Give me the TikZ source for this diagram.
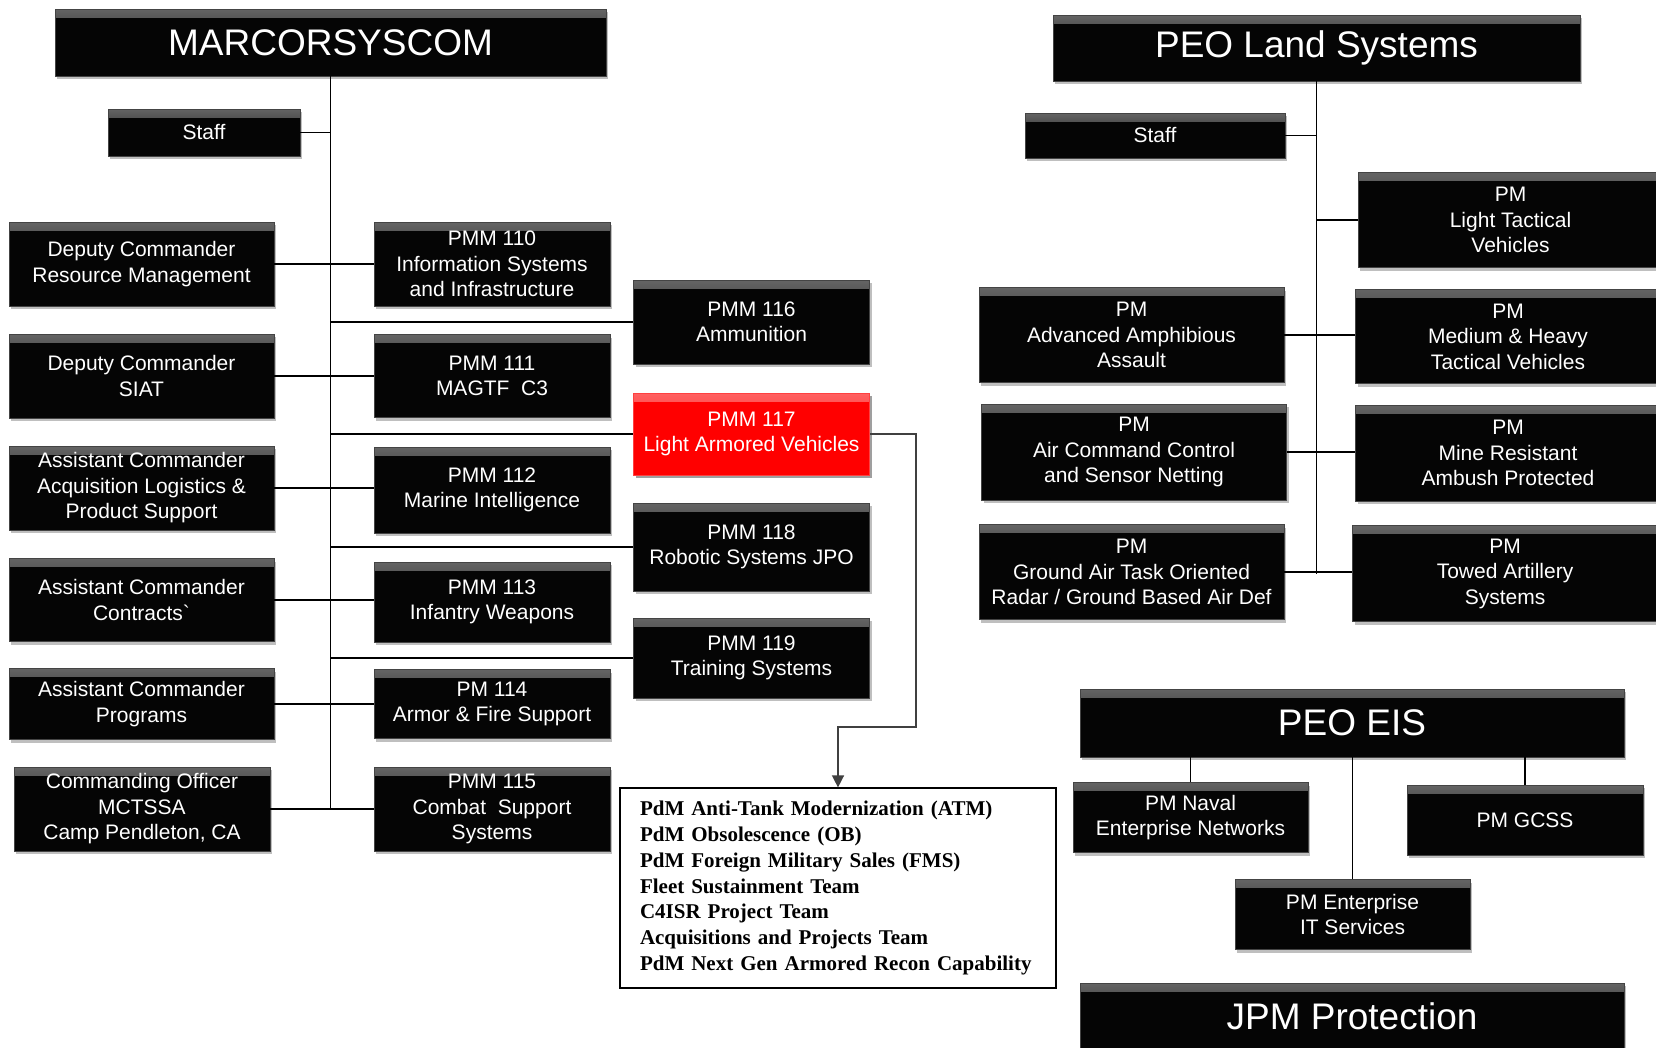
\documentclass[tikz,border=0pt]{standalone}
\usepackage{fontspec}
\setmainfont{Liberation Sans}
\newfontfamily\notefont{Liberation Serif}
\usepackage{xcolor}
\definecolor{boxfill}{HTML}{050505}
\definecolor{hilite}{HTML}{FF0000}
\definecolor{linkgray}{HTML}{404040}
\usetikzlibrary{arrows.meta, shadows}

\begin{document}
\begin{tikzpicture}[
  x=1pt, y=-1pt,
  orgbox/.style={rectangle, fill=#1, draw=#1!75!white, line width=0.8pt,
                 text=white, align=center, inner sep=2pt,
                 font=\fontsize{21}{25.5}\selectfont,
                 drop shadow={shadow xshift=2pt, shadow yshift=-3pt,
                              fill=black!50, opacity=.5},
                 path picture={\shade[top color=#1!62!white, bottom color=#1]
                   (path picture bounding box.north west) rectangle
                   ([yshift=-8pt]path picture bounding box.north east);}},
  orgbox/.default=boxfill,
  titlebox/.style={orgbox, font=\fontsize{37}{44}\selectfont},
  sidebox/.style={orgbox, minimum width=265pt},
  pmmbox/.style={orgbox, minimum width=236pt},
  pmbox/.style={orgbox, minimum width=305pt},
  orgline/.style={line width=1.8pt, black},
  thinline/.style={line width=1.3pt, black},
  orgarr/.style={-{Triangle[length=12pt, width=12pt]}, line width=1.4pt, linkgray}
]
  \useasboundingbox (0,0) rectangle (1656,1047);
  \fill[white] (0,0) rectangle (1656,1047);
  \clip (0,0) rectangle (1656,1047);

  \node[titlebox, minimum width=551pt, minimum height=67pt] (mcs) at (330.5,42.5) {MARCORSYSCOM};
  \node[orgbox, minimum width=192pt, minimum height=47pt] (staffl) at (204,132.5) {Staff};
  \node[sidebox, minimum height=84pt] (dcrm) at (141.5,264) {Deputy Commander\\Resource Management};
  \node[sidebox, minimum height=84pt] (dcsiat) at (141.5,376) {Deputy Commander\\SIAT};
  \node[sidebox, minimum height=84pt] (acq) at (141.5,488) {Assistant Commander\\Acquisition Logistics \&\\Product Support};
  \node[sidebox, minimum height=83pt] (contr) at (141.5,600) {Assistant Commander\\Contracts\textasciigrave};
  \node[sidebox, minimum height=71pt] (progs) at (141.5,704) {Assistant Commander\\Programs};
  \node[orgbox, minimum width=256pt, minimum height=84pt] (co) at (142,809) {Commanding Officer\\MCTSSA\\Camp Pendleton, CA};

  \node[pmmbox, minimum height=84pt] (pmm110) at (492,264) {PMM 110\\Information Systems\\and Infrastructure};
  \node[pmmbox, minimum height=83pt] (pmm111) at (492,376) {PMM 111\\MAGTF\ \ C3};
  \node[pmmbox, minimum height=86pt] (pmm112) at (492,490) {PMM 112\\Marine Intelligence};
  \node[pmmbox, minimum height=80pt] (pmm113) at (492,602) {PMM 113\\Infantry Weapons};
  \node[pmmbox, minimum height=69pt] (pm114) at (492,704) {PM 114\\Armor \& Fire Support};
  \node[pmmbox, minimum height=84pt] (pmm115) at (492,809) {PMM 115\\Combat\ \ Support\\Systems};

  \node[pmmbox, minimum height=84pt] (pmm116) at (751.5,322) {PMM 116\\Ammunition};
  \node[pmmbox, orgbox=hilite, minimum height=82pt] (pmm117) at (751.5,434) {PMM 117\\Light Armored Vehicles};
  \node[pmmbox, minimum height=88pt] (pmm118) at (751.5,547) {PMM 118\\Robotic Systems JPO};
  \node[pmmbox, minimum height=80pt] (pmm119) at (751.5,658) {PMM 119\\Training Systems};

  \node[draw=black, line width=1.2pt, fill=white, text width=396pt, inner xsep=20pt,
        minimum height=200pt, align=left,
        font=\notefont\bfseries\fontsize{21}{25.7}\selectfont] (pdm) at (838,888)
        {PdM Anti-Tank Modernization (ATM)\\
         PdM Obsolescence (OB)\\
         PdM Foreign Military Sales (FMS)\\
         Fleet Sustainment Team\\
         C4ISR Project Team\\
         Acquisitions and Projects Team\\
         PdM Next Gen Armored Recon Capability};

  \draw[orgline] (mcs.south) -- (mcs.south |- co.east);
  \draw[orgline] (staffl.east) -- (staffl.east -| mcs.south);
  \draw[orgline] (dcrm.east) -- (dcrm.east -| pmm110.west);
  \draw[orgline] (dcsiat.east) -- (dcsiat.east -| pmm111.west);
  \draw[orgline] (acq.east) -- (acq.east -| pmm112.west);
  \draw[orgline] (contr.east) -- (contr.east -| pmm113.west);
  \draw[orgline] (progs.east) -- (progs.east -| pm114.west);
  \draw[orgline] (co.east) -- (co.east -| pmm115.west);
  \draw[orgline] (pmm116.west) -- (pmm116.west -| mcs.south);
  \draw[orgline] (pmm117.west) -- (pmm117.west -| mcs.south);
  \draw[orgline] (pmm118.west) -- (pmm118.west -| mcs.south);
  \draw[orgline] (pmm119.west) -- (pmm119.west -| mcs.south);
  \coordinate (bend) at (916,727);
  \draw[orgarr] (pmm117.east) -| (bend) -| (pdm.north);

  \node[titlebox, minimum width=527pt, minimum height=66pt] (pls) at (1316.5,48) {PEO Land Systems};
  \node[orgbox, minimum width=260pt, minimum height=45pt] (staffr) at (1155,135.5) {Staff};
  \node[pmbox, minimum height=95pt] (ltv) at (1510.5,220) {PM\\Light Tactical\\Vehicles};
  \node[pmbox, minimum height=95pt] (aaa) at (1131.5,335) {PM\\Advanced Amphibious\\Assault};
  \node[pmbox, minimum height=94pt] (mhtv) at (1508,336.5) {PM\\Medium \& Heavy\\Tactical Vehicles};
  \node[pmbox, minimum height=96pt] (acc) at (1134,452) {PM\\Air Command Control\\and Sensor Netting};
  \node[pmbox, minimum height=96pt] (mrap) at (1508,453) {PM\\Mine Resistant\\Ambush Protected};
  \node[pmbox, minimum height=95pt] (gator) at (1131.5,572) {PM\\Ground Air Task Oriented\\Radar / Ground Based Air Def};
  \node[pmbox, minimum height=96pt] (tas) at (1505,573.5) {PM\\Towed Artillery\\Systems};

  \draw[orgline] (pls.south) -- (pls.south |- tas.west);
  \draw[orgline] (staffr.east) -- (staffr.east -| pls.south);
  \draw[orgline] (ltv.west) -- (ltv.west -| pls.south);
  \draw[orgline] (aaa.east) -- (aaa.east -| mhtv.west);
  \draw[orgline] (acc.east) -- (acc.east -| mrap.west);
  \draw[orgline] (gator.east) -- (gator.east -| tas.west);

  \node[titlebox, minimum width=544pt, minimum height=68pt] (eis) at (1352,723) {PEO EIS};
  \node[orgbox, minimum width=235pt, minimum height=70pt] (naval) at (1190.5,817.5) {PM Naval\\Enterprise Networks};
  \node[orgbox, minimum width=236pt, minimum height=70pt] (gcss) at (1525,820) {PM GCSS};
  \node[orgbox, minimum width=235pt, minimum height=70pt] (entit) at (1352.5,914.5) {PM Enterprise\\IT Services};
  \draw[thinline] (naval.north) -- (naval.north |- eis.south);
  \draw[thinline] (gcss.north) -- (gcss.north |- eis.south);
  \draw[thinline] (entit.north) -- (entit.north |- eis.south);

  \node[titlebox, minimum width=544pt, minimum height=67pt] (jpm) at (1352,1016.5) {JPM Protection};
\end{tikzpicture}
\end{document}
